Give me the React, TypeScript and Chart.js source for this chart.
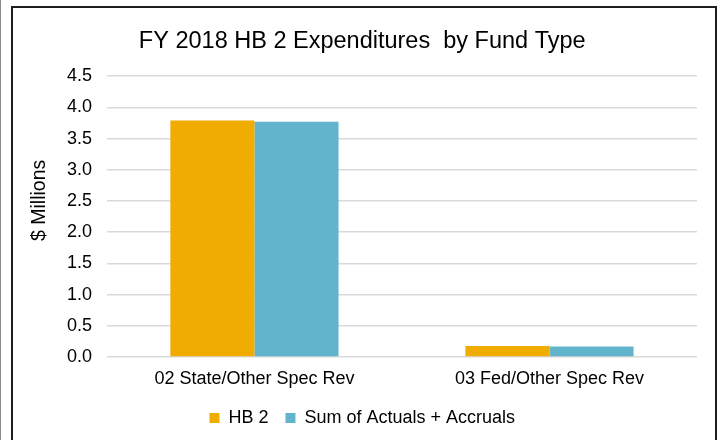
import React, { useEffect, useRef } from "react";
import { Chart, registerables } from "chart.js";

Chart.register(...registerables);

const chartTitle = "FY 2018 HB 2 Expenditures  by Fund Type";
const yAxisTitle = "$ Millions";
const categories = ["02 State/Other Spec Rev", "03 Fed/Other Spec Rev"];
const seriesNames = ["HB 2", "Sum of Actuals + Accruals"];
const hb2Values = [3.79, 0.175];
const actualsValues = [3.77, 0.17];
const seriesColors = ["#F0AC00", "#61B4CB"];
const yMin = 0;
const yMax = 4.5;
const yStep = 0.5;

const FONT = "'Liberation Sans', Arial, Helvetica, sans-serif";

export default function App() {
  const canvasRef = useRef<HTMLCanvasElement | null>(null);

  useEffect(() => {
    if (!canvasRef.current) return;
    const defaultLabels = Chart.defaults.plugins.legend.labels.generateLabels;
    const chart = new Chart(canvasRef.current, {
      type: "bar",
      data: {
        labels: categories,
        datasets: [
          {
            label: seriesNames[0],
            data: hb2Values,
            backgroundColor: seriesColors[0],
            borderWidth: 0,
          },
          {
            label: seriesNames[1],
            data: actualsValues,
            backgroundColor: seriesColors[1],
            borderWidth: 0,
          },
        ],
      },
      options: {
        responsive: false,
        maintainAspectRatio: false,
        animation: false,
        datasets: {
          bar: { categoryPercentage: 0.57, barPercentage: 1.0 },
        },
        layout: { padding: { left: 27.5, right: 23, top: 19, bottom: 3 } },
        plugins: {
          title: {
            display: true,
            text: chartTitle,
            color: "#000",
            font: { family: FONT, size: 23.5, weight: "normal" },
            padding: { top: 8, bottom: 21 },
          },
          legend: {
            display: true,
            position: "bottom",
            labels: {
              color: "#000",
              font: { family: FONT, size: 18 },
              boxWidth: 10,
              boxHeight: 10,
              padding: 7,
              generateLabels: (c: any) =>
                defaultLabels(c).map((item: any, i: number, arr: any[]) => ({
                  ...item,
                  text: i < arr.length - 1 ? item.text + "  " : item.text,
                })),
            },
          },
          tooltip: { enabled: false },
        },
        scales: {
          x: {
            grid: { display: false, drawTicks: false },
            border: { display: false },
            ticks: {
              color: "#000",
              font: { family: FONT, size: 18 },
              padding: 11.7,
            },
          },
          y: {
            min: yMin,
            max: yMax,
            grid: { color: "#D9D9D9", lineWidth: 1.5, drawTicks: false },
            border: { display: false },
            ticks: {
              stepSize: yStep,
              color: "#000",
              font: { family: FONT, size: 18 },
              padding: 15,
              callback: (v: any) => Number(v).toFixed(1),
            },
            title: {
              display: true,
              text: "      " + yAxisTitle,
              color: "#000",
              font: { family: FONT, size: 19.5 },
              padding: { top: 0, bottom: 1 },
            },
          },
        },
      },
    });
    return () => chart.destroy();
  }, []);

  return (
    <div
      style={{
        position: "fixed",
        left: 0,
        top: 0,
        width: 720,
        height: 440,
        background: "#fff",
        overflow: "hidden",
      }}
    >
      <canvas
        ref={canvasRef}
        width={720}
        height={440}
        style={{ position: "absolute", left: 0, top: 0, width: 720, height: 440 }}
      />
      <div
        style={{
          position: "absolute",
          left: 0,
          top: 0,
          width: 1,
          height: 440,
          background: "#8a8a8a",
          pointerEvents: "none",
        }}
      />
      <div
        style={{
          position: "absolute",
          left: 11,
          top: 6,
          width: 706,
          height: 500,
          boxSizing: "border-box",
          border: "2px solid #1e1e1e",
          pointerEvents: "none",
        }}
      />
    </div>
  );
}
